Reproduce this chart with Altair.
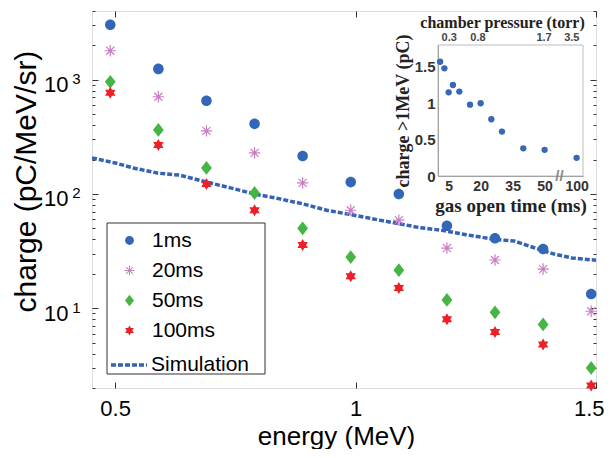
import altair as alt
import pandas as pd

# ---------------- data ----------------
energy = [0.49, 0.59, 0.69, 0.79, 0.89, 0.99, 1.09, 1.19, 1.29, 1.39, 1.49]
charge_1ms = [3030, 1245, 655, 411, 215, 127, 100, 52.6, 41, 33, 13.3]
charge_20ms = [1795, 710, 357, 229, 125, 72, 59, 33.6, 26.4, 22, 9.4]
charge_50ms = [960, 364, 169, 102, 50, 28, 21.5, 11.8, 9.2, 7.2, 3.0]
charge_100ms = [770, 269, 122, 72, 35.7, 19, 15, 8.0, 6.2, 4.8, 2.1]
series_names = ["1ms", "20ms", "50ms", "100ms"]

sim_energy = [0.452, 0.50, 0.54, 0.59, 0.635, 0.69, 0.74, 0.79, 0.84, 0.89, 0.94,
              0.99, 1.05, 1.09, 1.13, 1.18, 1.23, 1.29, 1.33, 1.37, 1.41, 1.45, 1.50]
sim_charge = [207, 187, 168, 152, 146, 127, 113, 100, 91, 82, 72,
              66, 59, 55, 51, 48, 44, 40, 38.7, 34, 30, 27.5, 26.3]

gas_time = [1, 3, 5, 7, 10, 15, 20, 25, 30, 40, 50, 100]
gas_charge = [1.57, 1.48, 1.15, 1.25, 1.16, 0.98, 1.0, 0.78, 0.61, 0.38, 0.36, 0.25]
gas_ticks = [5, 20, 35, 50, 100]
pressure_labels = ["0.3", "0.8", "1.7", "3.5"]
pressure_pos = [5, 18.5, 49.5, 62.5]   # positions on the gas-time axis

# ---------------- layout ----------------
W, H = 504, 377
XD = [0.452, 1.5]
YD = [2, 4000]
SANS = "Liberation Sans"
SERIF = "Liberation Serif"
INK = "#222222"


def axis_pos(t):
    # broken axis: 100 ms is drawn at position 65
    return t if t <= 50 else 65


CIRCLE = "M0.88,0A0.88,0.88 0 1,1 -0.88,0A0.88,0.88 0 1,1 0.88,0Z"
ASTERISK = ("M-0.1,-0.95L0.1,-0.95L0.1,0.95L-0.1,0.95Z"
            "M-0.95,-0.1L0.95,-0.1L0.95,0.1L-0.95,0.1Z"
            "M-0.74,-0.6L-0.6,-0.74L0.74,0.6L0.6,0.74Z"
            "M-0.74,0.6L0.6,-0.74L0.74,-0.6L-0.6,0.74Z")
DIAMOND = "M0,-1.15L0.9,0L0,1.15L-0.9,0Z"
HEXAGRAM = ("M0,-1L0.866,0.5L-0.866,0.5Z"
            "M0,1L-0.866,-0.5L0.866,-0.5Z")
series_colors = ["#3466b8", "#c97ec4", "#45b545", "#ee1f26"]
series_shapes = [CIRCLE, ASTERISK, DIAMOND, HEXAGRAM]
SIM_COLOR = "#3462b4"

rows = []
for name, vals in zip(series_names, [charge_1ms, charge_20ms, charge_50ms, charge_100ms]):
    for e, v in zip(energy, vals):
        rows.append({"energy": e, "charge": v, "series": name})
pts = pd.DataFrame(rows)
sim_df = pd.DataFrame({"energy": sim_energy, "charge": sim_charge, "name": "Simulation"})
ins_df = pd.DataFrame({"p": [axis_pos(t) for t in gas_time], "v": gas_charge})
dummy = pd.DataFrame({"x": [1.0], "y": [100.0]})
press_df = pd.DataFrame({"p": pressure_pos})

xscale = alt.Scale(domain=XD, nice=False, zero=False)
yscale = alt.Scale(type="log", domain=YD, nice=False)

minor_vals = [2, 3, 4, 5, 6, 7, 8, 9, 10, 20, 30, 40, 50, 60, 70, 80, 90,
              100, 200, 300, 400, 500, 600, 700, 800, 900, 1000, 2000, 3000, 4000]
tick_cond = {"condition": {"test": "datum.value == 10 || datum.value == 100 || datum.value == 1000",
                           "value": 6}, "value": 3}

main_x_axis = alt.Axis(values=[0.5, 1, 1.5], format="~g", ticks=False, tickSize=0, domain=False,
                       grid=False, labelFlush=True, labelFlushOffset=8, labelFont=SANS,
                       labelFontSize=22, labelColor="black", labelPadding=10,
                       title="energy (MeV)", titleFont=SANS, titleFontSize=26,
                       titleFontWeight="normal", titleColor="black",
                       titleX=244, titleY=56, titleBaseline="alphabetic")
main_y_axis = alt.Axis(values=[10, 100, 1000], labelExpr="'10'", ticks=False, tickSize=0,
                       domain=False, grid=False, labelFont=SANS, labelFontSize=22,
                       labelColor="black", labelPadding=24, labelOffset=5,
                       title="charge (pC/MeV/sr)", titleFont=SANS, titleFontSize=30,
                       titleFontWeight="normal", titleColor="black", titleX=-57, titleY=170,
                       titleAlign="center", titleBaseline="alphabetic", titleAngle=270)

legend_pts = alt.Legend(orient="none", legendX=27, legendY=219, title=None, labelFont=SANS,
                        labelFontSize=21, labelColor="black", symbolSize=100, rowPadding=8,
                        labelOffset=12, padding=0, symbolOpacity=1, symbolStrokeWidth=0)
legend_sim = alt.Legend(orient="none", legendX=17, legendY=334, title=None, labelFont=SANS,
                        labelFontSize=21, labelColor="black", symbolType="stroke",
                        symbolSize=1300, symbolStrokeColor=SIM_COLOR, symbolStrokeWidth=3.5,
                        symbolDash=[5, 2], labelOffset=2, padding=0)

sim = alt.Chart(sim_df).mark_line(strokeWidth=3.5, color=SIM_COLOR).encode(
    x=alt.X("energy:Q", scale=xscale, axis=main_x_axis),
    y=alt.Y("charge:Q", scale=yscale, axis=main_y_axis),
    strokeDash=alt.StrokeDash("name:N", scale=alt.Scale(domain=["Simulation"], range=[[5, 2]]),
                              legend=legend_sim),
)

points = alt.Chart(pts).mark_point(filled=True, opacity=1, size=144, strokeWidth=0).encode(
    x=alt.X("energy:Q", scale=xscale, axis=main_x_axis),
    y=alt.Y("charge:Q", scale=yscale, axis=main_y_axis),
    color=alt.Color("series:N", scale=alt.Scale(domain=series_names, range=series_colors),
                    legend=legend_pts),
    shape=alt.Shape("series:N", scale=alt.Scale(domain=series_names, range=series_shapes),
                    legend=legend_pts),
)

legend_box = alt.Chart(dummy).mark_rect(fill="white", stroke="#333333", strokeWidth=1).encode(
    x=alt.value(15), x2=alt.value(173), y=alt.value(212), y2=alt.value(363))

main = alt.layer(sim, points, legend_box)

# inward ticks on bottom and left edges
ticks_a = alt.Chart(dummy).mark_point(opacity=0).encode(
    x=alt.X("x:Q", scale=xscale, axis=alt.Axis(orient="top", offset=-H, values=[0.5, 1, 1.5],
                                               labels=False, domain=False, grid=False, tickSize=6,
                                               tickColor="#333333", title=None)),
    y=alt.Y("y:Q", scale=yscale, axis=alt.Axis(orient="right", offset=-W, values=minor_vals,
                                               labels=False, domain=False, grid=False,
                                               tickSize=tick_cond, tickColor="#333333",
                                               title=None)),
)
# inward ticks on top and right edges
ticks_b = alt.Chart(dummy).mark_point(opacity=0).encode(
    x=alt.X("x:Q", scale=xscale, axis=alt.Axis(orient="bottom", offset=-H, values=[0.5, 1, 1.5],
                                               labels=False, domain=False, grid=False, tickSize=6,
                                               tickColor="#333333", title=None)),
    y=alt.Y("y:Q", scale=yscale, axis=alt.Axis(orient="left", offset=-W, values=minor_vals,
                                               labels=False, domain=False, grid=False,
                                               tickSize=tick_cond, tickColor="#333333",
                                               title=None)),
)
# exponents of the 10^n labels
expo = alt.Chart(dummy).mark_point(opacity=0).encode(
    y=alt.Y("y:Q", scale=yscale, axis=alt.Axis(orient="left", values=[10, 100, 1000],
                                               labelExpr="datum.value == 1000 ? '3' : datum.value == 100 ? '2' : '1'",
                                               ticks=False, tickSize=0, domain=False, grid=False,
                                               labelFont=SANS, labelFontSize=15, labelColor="black",
                                               labelPadding=12, labelOffset=-1, title=None)),
)

# ---------------- inset ----------------
IX = [0, 68]
IY = [0, 1.8]
ix_scale = alt.Scale(domain=IX, range=[346, 491], nice=False, zero=False)
iy_scale = alt.Scale(domain=IY, range=[165, 34], nice=False, zero=False)

gas_expr = " : ".join(f"datum.value == {axis_pos(t)} ? '{t}'" for t in gas_ticks) + " : ''"
press_expr = " : ".join(f"datum.value == {p} ? '{l}'" for p, l in zip(pressure_pos, pressure_labels)) + " : ''"

ins_x_axis = alt.Axis(orient="bottom", offset=165 - H, values=[axis_pos(t) for t in gas_ticks],
                      labelExpr=gas_expr, ticks=False, tickSize=0, domain=True, domainColor="#888888",
                      grid=False, labelFlush=False, labelFont=SANS, labelFontWeight="bold",
                      labelFontSize=14, labelColor="#333333", labelPadding=3,
                      title="gas open time (ms)", titleFont=SERIF, titleFontWeight="bold",
                      titleFontSize=19, titleColor=INK, titlePadding=3)
ins_y_axis = alt.Axis(orient="left", offset=-346, values=[0, 0.5, 1, 1.5], format="~g",
                      ticks=False, tickSize=0, domain=True, domainColor="#888888", grid=False,
                      labelFlush=False, labelFont=SANS, labelFontWeight="bold", labelFontSize=15,
                      labelColor="#333333", labelPadding=3, title="charge >1MeV (pC)",
                      titleFont=SERIF, titleFontWeight="bold", titleFontSize=18, titleColor=INK,
                      titlePadding=2)

frame_df = pd.DataFrame({"p": [IX[0]], "p2": [IX[1]], "v": [IY[0]], "v2": [IY[1]]})
ins_frame = alt.Chart(frame_df).mark_rect(fillOpacity=0, stroke="#bbbbbb", strokeWidth=1).encode(
    x=alt.X("p:Q", scale=ix_scale, axis=ins_x_axis), x2="p2:Q",
    y=alt.Y("v:Q", scale=iy_scale, axis=ins_y_axis), y2="v2:Q")
ins_pts = alt.Chart(ins_df).mark_circle(size=40, color="#3a66b8", opacity=1).encode(
    x=alt.X("p:Q", scale=ix_scale, axis=ins_x_axis),
    y=alt.Y("v:Q", scale=iy_scale, axis=ins_y_axis))
brk_df = pd.DataFrame({"p": [57], "v": [0.0]})
ins_break = alt.Chart(brk_df).mark_text(text="//", fontSize=15, color="#888888",
                                        font=SANS, fontWeight="bold").encode(
    x=alt.X("p:Q", scale=ix_scale, axis=ins_x_axis),
    y=alt.Y("v:Q", scale=iy_scale, axis=ins_y_axis))
inset = alt.layer(ins_frame, ins_pts, ins_break)

ins_top = alt.Chart(press_df).mark_point(opacity=0).encode(
    x=alt.X("p:Q", scale=ix_scale,
            axis=alt.Axis(orient="top", offset=-34, values=pressure_pos, labelExpr=press_expr,
                          ticks=False, tickSize=0, domain=False, grid=False, labelFlush=False,
                          labelFont=SANS, labelFontWeight="bold", labelFontSize=11,
                          labelColor="#444444", labelPadding=3,
                          title="chamber pressure (torr)", titleFont=SERIF,
                          titleFontWeight="bold", titleFontSize=16, titleColor=INK,
                          titlePadding=1, titleX=410)),
)

chart = alt.layer(main, ticks_a, ticks_b, expo, inset, ins_top).resolve_scale(
    x="independent", y="independent"
).properties(
    width=W, height=H,
    padding={"left": 84, "top": 3, "right": 9, "bottom": 61},
    autosize=alt.AutoSizeParams(type="none"),
).configure_view(stroke="#333333", strokeWidth=1).configure(background="white")

chart.save("out.html", embed_options={"renderer": "svg", "actions": False})
